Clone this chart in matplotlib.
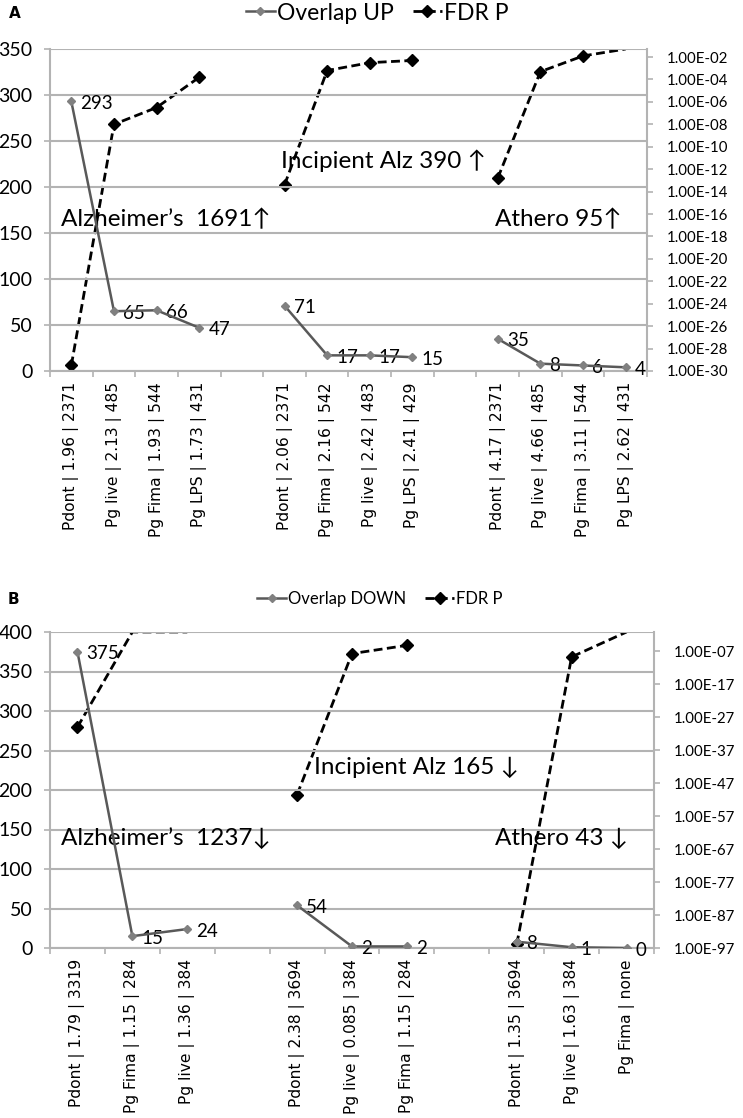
import numpy as np
import matplotlib
matplotlib.use("Agg")
import matplotlib.pyplot as plt
from matplotlib.lines import Line2D
from matplotlib.ticker import FixedLocator, FuncFormatter, NullFormatter
from matplotlib import font_manager as fm

# ---------------- data ----------------
up_labels = [
    ["Pdont | 1.96 | 2371", "Pg live | 2.13 | 485", "Pg Fima | 1.93 | 544", "Pg LPS | 1.73 | 431"],
    ["Pdont | 2.06 | 2371", "Pg Fima | 2.16 | 542", "Pg live | 2.42 | 483", "Pg LPS | 2.41 | 429"],
    ["Pdont | 4.17 | 2371", "Pg live | 4.66 | 485", "Pg Fima | 3.11 | 544", "Pg LPS | 2.62 | 431"],
]
up_overlap = [[293, 65, 66, 47], [71, 17, 17, 15], [35, 8, 6, 4]]
up_fdr_exp = [[-29.5, -8.0, -6.5, -3.8], [-13.4, -3.2, -2.5, -2.3], [-12.8, -3.3, -1.9, -1.0]]
up_titles = ["Alzheimer\u2019s  1691\u2191", "Incipient Alz 390 \u2191", "Athero 95\u2191"]

down_labels = [
    ["Pdont | 1.79 | 3319", "Pg Fima | 1.15 | 284", "Pg live | 1.36 | 384"],
    ["Pdont | 2.38 | 3694", "Pg live | 0.085 | 384", "Pg Fima | 1.15 | 284"],
    ["Pdont | 1.35 | 3694", "Pg live | 1.63 | 384", "Pg Fima | none"],
]
down_overlap = [[375, 15, 24], [54, 2, 2], [8, 1, 0]]
down_fdr_exp = [[-30.0, -1.0, -1.0], [-50.5, -7.7, -5.2], [-95.9, -8.7, -1.0]]
down_titles = ["Alzheimer\u2019s  1237\u2193", "Incipient Alz 165 \u2193", "Athero 43 \u2193"]


# ---------------- style ----------------
def has_font(name):
    try:
        fm.findfont(fm.FontProperties(family=name), fallback_to_default=False)
        return True
    except Exception:
        return False


CAL = ["Lato", "DejaVu Sans"]
if has_font("Liberation Sans Narrow"):
    RFONT, RSIZE = ["Liberation Sans Narrow", "DejaVu Sans"], 13.5
else:
    RFONT, RSIZE = CAL, 10.8
GRAY = "#595959"
GRID = "#b3b3b3"
W, H = 743, 1118
fig = plt.figure(figsize=(W / 100, H / 100), dpi=100)


def px_axes(l, t, r, b):
    return fig.add_axes([l / W, 1 - b / H, (r - l) / W, (b - t) / H])


def panel(ax, labels, overlap, fdr_exp, ymax, ystep, rlog_lo, rlog_hi, rticks,
          titles, title_pos, legend_name, legend_xy, legend_fs, letter, letter_xy):
    n_groups = len(labels)
    gsize = len(labels[0])
    nslots = n_groups * gsize + (n_groups - 1)
    ax2 = ax.twinx()
    ax.set_zorder(ax2.get_zorder() + 1)
    ax.patch.set_visible(False)
    ticks, ticklabels = [], []
    top_val = 10 ** rlog_hi
    for g in range(n_groups):
        xs = np.arange(gsize) + g * (gsize + 1)
        ticks += list(xs)
        ticklabels += labels[g]
        ov = np.array(overlap[g], float)
        fd = np.minimum(10.0 ** np.array(fdr_exp[g]), top_val)
        inrange = [i for i, e in enumerate(fdr_exp[g]) if e < rlog_hi]
        ax2.plot(xs, fd, color="black", lw=2, ls=(0, (3.2, 1.6)), zorder=3)
        ax2.plot(xs[inrange], fd[inrange], ls="none", marker="D", ms=6.5,
                 color="black", zorder=4)
        ax.plot(xs, ov, color=GRAY, lw=1.8, marker="D", ms=4.3, mfc="#808080",
                mec="#808080", zorder=5)
        for x, v in zip(xs, ov):
            ax.annotate(f"{int(v)}", (x, v), xytext=(6.5, -1.5), textcoords="offset points",
                        ha="left", va="center", fontsize=13.5, family=CAL, color="black")
        ax.text(title_pos[g][0], title_pos[g][1], titles[g], transform=ax.transAxes,
                ha="left", va="center", fontsize=17.5, family=CAL, color="black")
    ax.set_xlim(-0.5, nslots - 0.5)
    ax.set_ylim(0, ymax)
    ax.set_yticks(np.arange(0, ymax + 1, ystep))
    ax.yaxis.grid(True, color=GRID, lw=1.5)
    ax.set_axisbelow(True)
    ax.set_xticks(ticks)
    ax.set_xticklabels(ticklabels, rotation=90, fontsize=11.2, family="DejaVu Sans")
    ax.xaxis.set_minor_locator(FixedLocator(np.arange(-0.5, nslots, 1.0)))
    ax.tick_params(axis="x", which="major", length=0, pad=8)
    ax.tick_params(axis="x", which="minor", length=4.5, color=GRID, width=1.2)
    ax.tick_params(axis="y", length=4.5, color=GRID, width=1.2, labelsize=14, pad=8)
    for lab in ax.get_yticklabels():
        lab.set_family(CAL)
    for s in ["left", "bottom", "right"]:
        ax.spines[s].set_color(GRID)
        ax.spines[s].set_linewidth(1.5)
    ax.spines["top"].set_visible(False)

    ax2.set_yscale("log")
    ax2.set_ylim(10 ** rlog_lo, top_val)
    ax2.yaxis.set_major_locator(FixedLocator([10.0 ** e for e in rticks]))
    ax2.yaxis.set_minor_locator(FixedLocator([]))
    ax2.yaxis.set_minor_formatter(NullFormatter())
    ax2.yaxis.set_major_formatter(FuncFormatter(lambda v, p: f"{v:.2E}"))
    ax2.tick_params(axis="y", length=4.5, color=GRID, width=1.2, labelsize=RSIZE, pad=10)
    for lab in ax2.get_yticklabels():
        lab.set_family(RFONT)
    for s in ax2.spines.values():
        s.set_visible(False)

    handles = [
        Line2D([], [], color=GRAY, lw=1.8, marker="D", ms=4.3, mfc="#808080", mec="#808080"),
        Line2D([], [], color="black", lw=2, ls=(0, (3.2, 1.6)), marker="D", ms=6.5),
    ]
    fspx = legend_fs * 100 / 72
    fig.legend(handles, [legend_name, "FDR P"], loc="center",
               bbox_to_anchor=(legend_xy[0] / W, 1 - legend_xy[1] / H), ncol=2,
               frameon=False, handlelength=29 / fspx, handletextpad=2 / fspx,
               columnspacing=19 / fspx, borderpad=0, borderaxespad=0,
               prop={"family": CAL, "size": legend_fs})
    fig.text(letter_xy[0] / W, 1 - letter_xy[1] / H, letter, ha="center", va="center",
             fontsize=11, fontweight="bold", family="DejaVu Sans")


axA = px_axes(50, 49, 647, 371)
panel(axA, up_labels, up_overlap, up_fdr_exp, 350, 50, -30, -1.28, list(range(-30, -1, 2)),
      up_titles, [(0.018, 0.469), (0.387, 0.652), (0.745, 0.469)],
      "Overlap UP", (377, 13), 16.5, "A", (15, 14))

axB = px_axes(50, 632, 654, 948)
panel(axB, down_labels, down_overlap, down_fdr_exp, 400, 50, -97, -1.15, list(range(-97, -6, 10)),
      down_titles, [(0.018, 0.348), (0.437, 0.573), (0.737, 0.348)],
      "Overlap DOWN", (380, 599), 12, "B", (13, 599))

fig.savefig("out.png", dpi=100)
